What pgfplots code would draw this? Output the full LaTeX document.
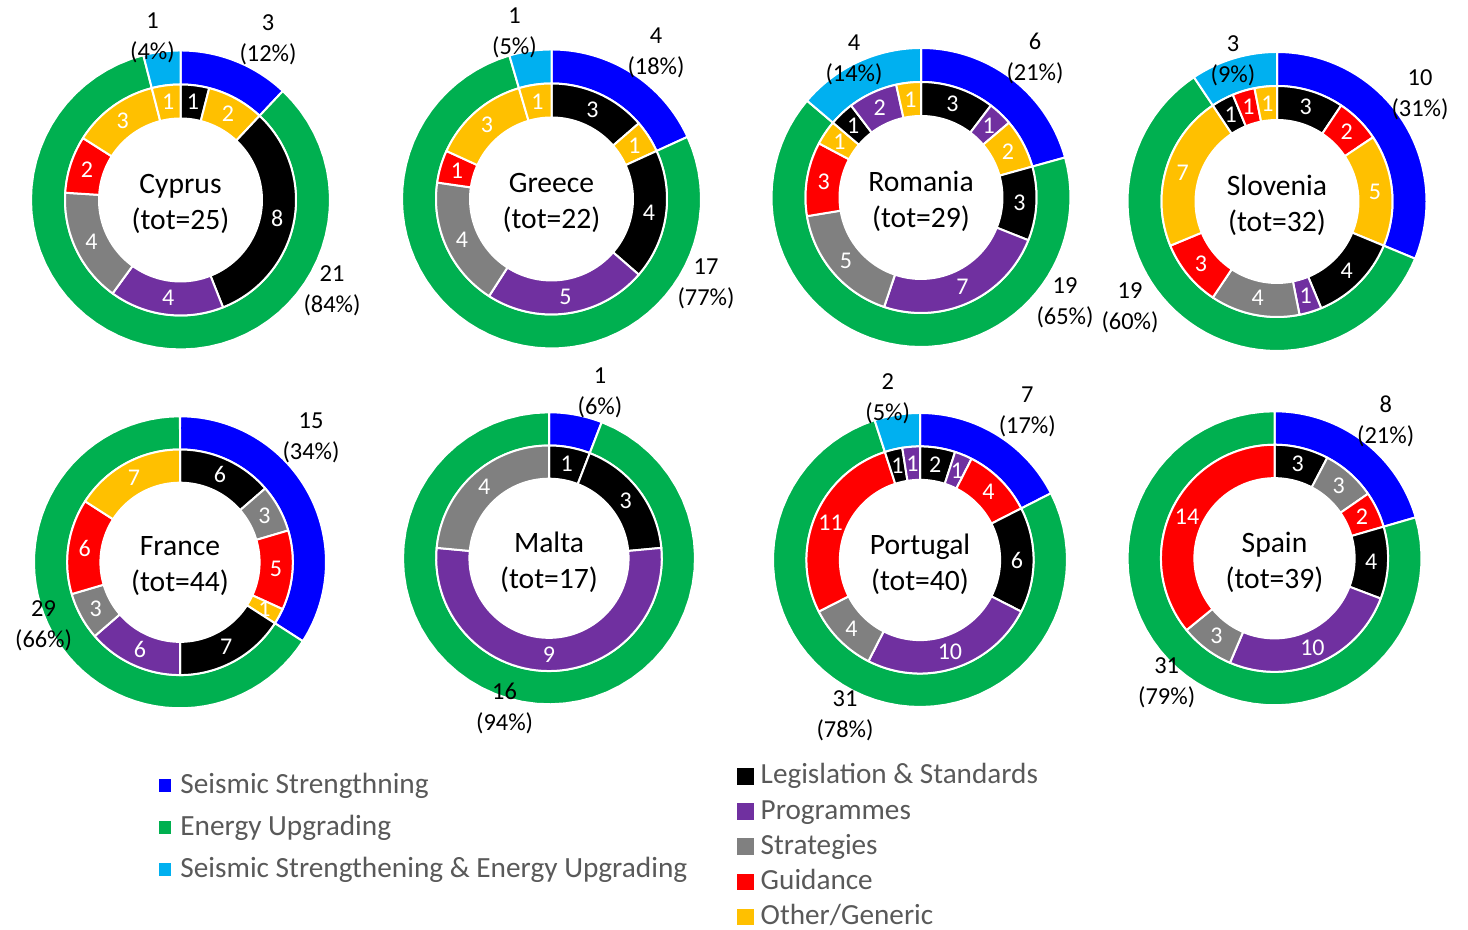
\documentclass[border=0pt]{standalone}
\usepackage{fontspec}
\setmainfont{Carlito}
\usepackage{pgfplots}
\pgfplotsset{compat=1.18}

% outer ring (type of measure)
\definecolor{cSeis}{HTML}{0000FF}
\definecolor{cEner}{HTML}{00B050}
\definecolor{cBoth}{HTML}{00B0F0}
% inner ring (kind of instrument)
\definecolor{cLeg}{HTML}{000000}
\definecolor{cProg}{HTML}{7030A0}
\definecolor{cStr}{HTML}{808080}
\definecolor{cGuid}{HTML}{FF0000}
\definecolor{cOth}{HTML}{FFC000}
\definecolor{legtext}{HTML}{595959}

\tikzset{
  inlab/.style={text=white, inner sep=0pt, font=\fontsize{12}{14}\selectfont},
  outlab/.style={text=black, inner sep=0pt, align=center, yshift=-1pt, font=\fontsize{12.2}{15.5}\selectfont},
  ctrlab/.style={text=black, inner sep=0pt, align=center, yshift=-2pt, font=\fontsize{14.8}{18}\selectfont},
}

% \ringseg{cx}{cy}{r inner}{r outer}{start angle}{end angle}{colour}
% annular sector: outer arc for x in [0,1], inner arc back for x in [1,2]
\newcommand\ringseg[7]{%
  \edef\tmp{\noexpand\addplot[forget plot, fill=#7, draw=white, line width=1pt, line join=round,
      domain=0:2, samples=121]
    ({#1+((x<1.008) ? (#4)*cos((#5)+((#6)-(#5))*min(x,1)) : (#3)*cos((#6)-((#6)-(#5))*max(x-1.0167,0)/0.9833))},
     {#2+((x<1.008) ? (#4)*sin((#5)+((#6)-(#5))*min(x,1)) : (#3)*sin((#6)-((#6)-(#5))*max(x-1.0167,0)/0.9833))})
    -- cycle;}%
  \tmp}

% \donut{cx}{cy}{R}{name}{total}{outer: value/colour/label x/label y/percent}{inner: value/colour}
% positions in pixels from the top-left corner; segments run clockwise from 12 o'clock
\newcommand\donut[7]{%
  \pgfmathsetmacro\cx{#1}%
  \pgfmathsetmacro\cy{930-#2}%
  \pgfmathsetmacro\rO{#3}%
  \pgfmathsetmacro\rH{0.545*#3}%
  \pgfmathsetmacro\rM{(\rH+\rO)/2}%
  \pgfmathsetmacro\rL{(\rH+\rM)/2}%
  \xdef\cum{0}%
  \foreach \val/\col/\lx/\ly/\pct in {#6}{%
    \pgfmathsetmacro\angA{90-360*\cum/#5}%
    \pgfmathsetmacro\angB{90-360*(\cum+\val)/#5}%
    \ringseg{\cx}{\cy}{\rM}{\rO}{\angA}{\angB}{\col}%
    \pgfmathsetmacro\cumn{\cum+\val}\xdef\cum{\cumn}%
  }%
  \xdef\cum{0}%
  \foreach \val/\col in {#7}{%
    \pgfmathsetmacro\angA{90-360*\cum/#5}%
    \pgfmathsetmacro\angB{90-360*(\cum+\val)/#5}%
    \ringseg{\cx}{\cy}{\rH}{\rM}{\angA}{\angB}{\col}%
    \pgfmathsetmacro\cumn{\cum+\val}\xdef\cum{\cumn}%
  }%
  \xdef\cum{0}%
  \foreach \val/\col in {#7}{%
    \pgfmathsetmacro\angM{90-360*(\cum+\val/2)/#5}%
    \pgfmathsetmacro\tx{\cx+\rL*cos(\angM)}%
    \pgfmathsetmacro\ty{\cy+\rL*sin(\angM)}%
    \edef\tmp{\noexpand\node[inlab] at (axis cs:\tx,\ty) {\val};}\tmp
    \pgfmathsetmacro\cumn{\cum+\val}\xdef\cum{\cumn}%
  }%
  \foreach \val/\col/\lx/\ly/\pct in {#6}{%
    \pgfmathsetmacro\lyy{930-\ly}%
    \edef\tmp{\noexpand\node[outlab] at (axis cs:\lx,\lyy) {\val\noexpand\\(\pct\noexpand\%)};}\tmp
  }%
  \edef\tmp{\noexpand\node[ctrlab] at (axis cs:\cx,\cy) {#4\noexpand\\(tot=#5)};}\tmp
}

\begin{document}
\begin{tikzpicture}
\useasboundingbox (0,0) rectangle (734pt,465pt);
\clip (0,0) rectangle (734pt,465pt);
\begin{axis}[at={(0pt,0pt)}, anchor=south west, width=734pt, height=465pt, scale only axis,
  xmin=0, xmax=1468, ymin=0, ymax=930, hide axis, clip=false]

\donut{180.5}{200}{149.5}{Cyprus}{25}%
  {3/cSeis/268/38/12,21/cEner/332/288.5/84,1/cBoth/152.5/36/4}%
  {1/cLeg,2/cOth,8/cLeg,4/cProg,4/cStr,2/cGuid,3/cOth,1/cOth}

\donut{551.5}{199}{149.5}{Greece}{22}%
  {4/cSeis/656/51/18,17/cEner/706/281.5/77,1/cBoth/514.5/31/5}%
  {3/cLeg,1/cOth,4/cLeg,5/cProg,4/cStr,1/cGuid,3/cOth,1/cOth}

\donut{921}{197.5}{149.5}{Romania}{29}%
  {6/cSeis/1035/56/21,19/cEner/1065/301/65,4/cBoth/854/58/14}%
  {3/cLeg,1/cProg,2/cOth,3/cLeg,7/cProg,5/cStr,3/cGuid,1/cOth,1/cLeg,2/cProg,1/cOth}

\donut{1277}{201.5}{149.5}{Slovenia}{32}%
  {10/cSeis/1420/93/31,19/cEner/1130/306/60,3/cBoth/1233/58.5/9}%
  {3/cLeg,2/cGuid,5/cOth,4/cLeg,1/cProg,4/cStr,3/cGuid,7/cOth,1/cLeg,1/cGuid,1/cOth}

\donut{180}{562.3}{146}{France}{44}%
  {15/cSeis/311/436/34,29/cEner/43.6/624/66}%
  {6/cLeg,3/cStr,5/cGuid,1/cOth,7/cLeg,6/cProg,3/cStr,6/cGuid,7/cOth}

\donut{549}{558.3}{146}{Malta}{17}%
  {1/cSeis/600/391/6,16/cEner/504.6/706/94}%
  {1/cLeg,3/cLeg,9/cProg,4/cStr}

\donut{920}{560}{147}{Portugal}{40}%
  {7/cSeis/1027.3/410.3/17,31/cEner/845/713.3/78,2/cBoth/887.7/396.7/5}%
  {2/cLeg,1/cProg,4/cGuid,6/cLeg,10/cProg,4/cStr,11/cGuid,1/cLeg,1/cProg}

\donut{1274.5}{558.3}{147}{Spain}{39}%
  {8/cSeis/1385.7/419/21,31/cEner/1166.7/681/79}%
  {3/cLeg,3/cStr,2/cGuid,4/cLeg,10/cProg,3/cStr,14/cGuid}

\end{axis}

% legend of the outer ring
\begin{axis}[at={(0pt,0pt)}, anchor=south west, width=734pt, height=465pt, scale only axis,
  xmin=0, xmax=1, ymin=0, ymax=1, hide axis,
  legend cell align=left,
  legend image code/.code={\fill[#1] (0pt,-1.7pt) rectangle (5.5pt,4pt);},
  legend style={at={(0.1083,0.1685)}, anchor=north west, draw=none, fill=none,
    inner sep=0pt, row sep=7pt, column sep=4.6pt,
    font=\fontsize{14.65}{17}\selectfont,
    nodes={inner sep=0pt, text height=10pt, text depth=4pt, text=legtext}}]
\addlegendimage{cSeis}\addlegendentry{Seismic Strengthning}
\addlegendimage{cEner}\addlegendentry{Energy Upgrading}
\addlegendimage{cBoth}\addlegendentry{Seismic Strengthening \& Energy Upgrading}
\end{axis}

% legend of the inner ring
\begin{axis}[at={(0pt,0pt)}, anchor=south west, width=734pt, height=465pt, scale only axis,
  xmin=0, xmax=1, ymin=0, ymax=1, hide axis,
  legend cell align=left,
  legend image code/.code={\fill[#1] (0pt,-3pt) rectangle (8pt,4.8pt);},
  legend style={at={(0.5020,0.1790)}, anchor=north west, draw=none, fill=none,
    inner sep=0pt, row sep=3.6pt, column sep=3.3pt,
    font=\fontsize{14.6}{17}\selectfont,
    nodes={inner sep=0pt, text height=10pt, text depth=4pt, text=legtext}}]
\addlegendimage{cLeg}\addlegendentry{Legislation \& Standards}
\addlegendimage{cProg}\addlegendentry{Programmes}
\addlegendimage{cStr}\addlegendentry{Strategies}
\addlegendimage{cGuid}\addlegendentry{Guidance}
\addlegendimage{cOth}\addlegendentry{Other/Generic}
\end{axis}
\end{tikzpicture}
\end{document}
